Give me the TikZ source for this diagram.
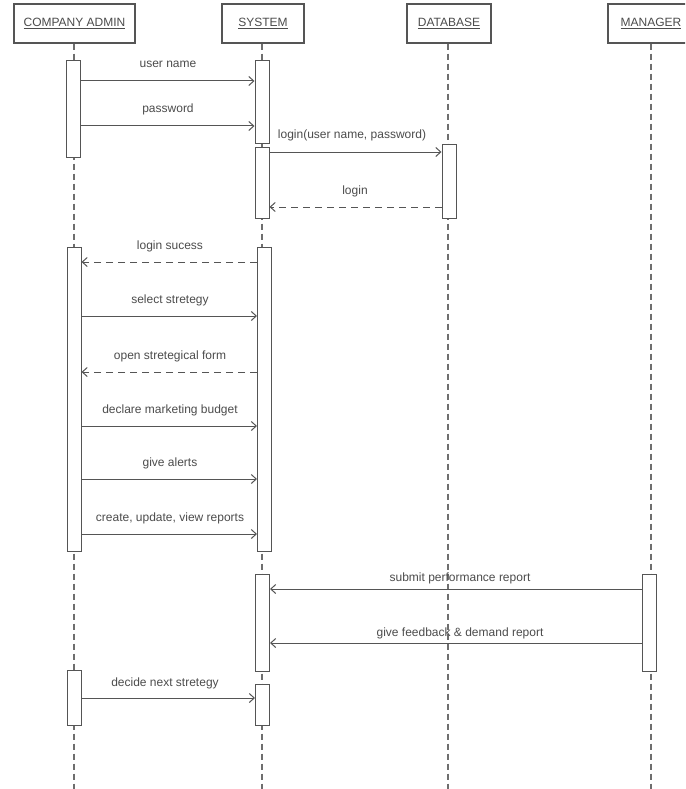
\documentclass[tikz,border=0pt]{standalone}
\usepackage{fontspec}
\setmainfont{Liberation Sans}
\usetikzlibrary{arrows.meta}
\definecolor{linec}{HTML}{555555}
\definecolor{lifec}{HTML}{6E6E6E}
\definecolor{textc}{HTML}{4C4C4C}
\begin{document}
\begin{tikzpicture}[x=1pt,y=-1pt,
  every node/.style={font=\fontsize{12}{14}\selectfont, text=textc},
  header/.style={draw=linec, line width=1.3pt, fill=white, minimum height=39pt, inner sep=0pt},
  bar/.style={draw=linec, line width=1pt, fill=white, minimum width=14pt, inner sep=0pt},
  life/.style={draw=lifec, line width=1.1pt, dash pattern=on 6pt off 4pt},
  msg/.style={draw=linec, line width=1pt, -{Straight Barb[length=5pt,width=9pt]}},
  reply/.style={msg, dash pattern=on 7pt off 5pt},
  lbl/.style={anchor=base, inner sep=0pt}
]
\useasboundingbox (0,0) rectangle (685,789);
\clip (0,0) rectangle (685,789);
\fill[white] (0,0) rectangle (685,789);

% headers
\node[header, minimum width=121pt] (adm) at (74.5,23.5) {\underline{COMPANY ADMIN}};
\node[header, minimum width=82pt] (sys) at (263,23.5) {\underline{SYSTEM}};
\node[header, minimum width=84pt] (db) at (449,23.5) {\underline{DATABASE}};
\node[header, minimum width=86pt] (mgr) at (651,23.5) {\underline{MANAGER}};

% lifeline ends
\coordinate (admE) at (74,795);
\coordinate (sysE) at (262,795);
\coordinate (dbE) at (448,795);
\coordinate (mgrE) at (651,795);
\draw[life] (adm.south -| admE) -- (admE);
\draw[life] (sys.south -| sysE) -- (sysE);
\draw[life] (db.south -| dbE) -- (dbE);
\draw[life] (mgr.south -| mgrE) -- (mgrE);

% activation bars
\node[bar, minimum height=96pt] (a1) at (73.5,109) {};
\node[bar, minimum height=82pt] (s1) at (262,102) {};
\node[bar, minimum height=71pt] (s2) at (262,182.5) {};
\node[bar, minimum height=74pt] (d1) at (449,181) {};
\node[bar, minimum height=304pt] (a2) at (74,399) {};
\node[bar, minimum height=304pt] (s3) at (264.5,399) {};
\node[bar, minimum height=97pt] (s4) at (262.5,622.5) {};
\node[bar, minimum height=97pt] (m1) at (649.5,622.5) {};
\node[bar, minimum height=41pt] (s5) at (262.5,704.5) {};
\node[bar, minimum height=55pt] (a3) at (74.5,697.5) {};

% messages
\draw[msg] (a1.east |- 0,81) -- (s1.west |- 0,81);
\node[lbl] (t1) at (168,68) {user name};
\draw[msg] (a1.east |- 0,126) -- (s1.west |- 0,126);
\node[lbl] (t2) at (168,113) {password};
\draw[msg] (s2.east |- 0,152) -- (d1.west |- 0,152);
\node[lbl] (t3) at (352,139) {login(user name, password)};
\draw[reply] (d1.west |- 0,207) -- (s2.east |- 0,207);
\node[lbl] (t4) at (355,194) {login};

\draw[reply] (s3.west |- 0,262) -- (a2.east |- 0,262);
\node[lbl] (t5) at (170,249) {login sucess};
\draw[msg] (a2.east |- 0,316) -- (s3.west |- 0,316);
\node[lbl] (t6) at (170,303) {select stretegy};
\draw[reply] (s3.west |- 0,372) -- (a2.east |- 0,372);
\node[lbl] (t7) at (170,359) {open stretegical form};
\draw[msg] (a2.east |- 0,426) -- (s3.west |- 0,426);
\node[lbl] (t8) at (170,413) {declare marketing budget};
\draw[msg] (a2.east |- 0,479) -- (s3.west |- 0,479);
\node[lbl] (t9) at (170,466) {give alerts};
\draw[msg] (a2.east |- 0,534) -- (s3.west |- 0,534);
\node[lbl] (t10) at (170,521) {create, update, view reports};

\draw[msg] (m1.west |- 0,589) -- (s4.east |- 0,589);
\node[lbl] (t11) at (460,581) {submit performance report};
\draw[msg] (m1.west |- 0,643) -- (s4.east |- 0,643);
\node[lbl] (t12) at (460,636) {give feedback \& demand report};
\draw[msg] (a3.east |- 0,698) -- (s5.west |- 0,698);
\node[lbl] (t13) at (165,686) {decide next stretegy};
\end{tikzpicture}
\end{document}
